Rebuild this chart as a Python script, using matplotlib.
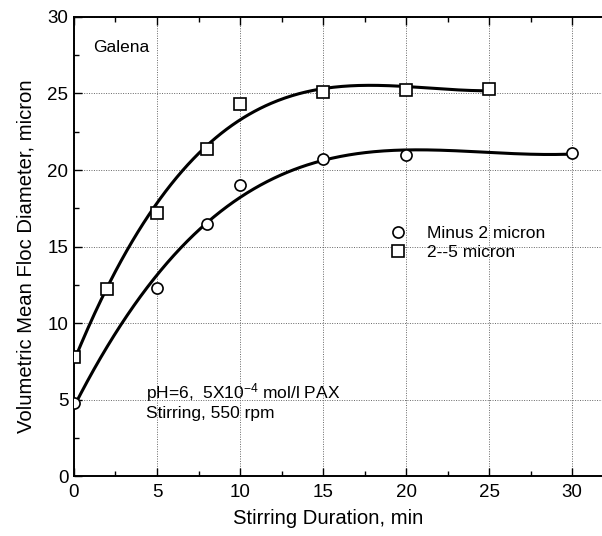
import numpy as np
import matplotlib
matplotlib.use("Agg")
import matplotlib.pyplot as plt
from matplotlib.ticker import MultipleLocator

plt.rcParams['font.family'] = ['Liberation Sans', 'DejaVu Sans']
plt.rcParams['mathtext.fontset'] = 'custom'
plt.rcParams['mathtext.rm'] = 'Liberation Sans'
plt.rcParams['mathtext.it'] = 'Liberation Sans'

# data
t_minus2 = np.array([0, 5, 8, 10, 15, 20, 30])
d_minus2 = np.array([4.8, 12.3, 16.5, 19.0, 20.7, 21.0, 21.1])
t_2to5 = np.array([0, 2, 5, 8, 10, 15, 20, 25])
d_2to5 = np.array([7.8, 12.2, 17.2, 21.4, 24.3, 25.1, 25.2, 25.3])

labels_ = ["Minus 2 micron", "2--5 micron"]


def main():
    fig = plt.figure(figsize=(6.02, 5.36), dpi=100)
    ax = fig.add_axes([0.1229, 0.1119, 0.8771, 0.8564])

    # fitted curves (polynomial fit of each series)
    for t, d, deg in [(t_minus2, d_minus2, 3), (t_2to5, d_2to5, 3)]:
        coef = np.polyfit(t, d, deg)
        xs = np.linspace(t.min(), t.max(), 300)
        ax.plot(xs, np.polyval(coef, xs), color="black", lw=2.2, zorder=3)

    ax.plot(t_minus2, d_minus2, "o", ms=8, mfc="white", mec="black", mew=1.2,
            ls="none", label=labels_[0], zorder=4)
    ax.plot(t_2to5, d_2to5, "s", ms=8, mfc="white", mec="black", mew=1.2,
            ls="none", label=labels_[1], zorder=4)

    ax.set_xlim(0, 31.8)
    ax.set_ylim(0, 30)
    ax.xaxis.set_major_locator(MultipleLocator(5))
    ax.xaxis.set_minor_locator(MultipleLocator(2.5))
    ax.yaxis.set_major_locator(MultipleLocator(5))
    ax.yaxis.set_minor_locator(MultipleLocator(2.5))
    ax.tick_params(which="both", direction="in", top=True, right=False)
    ax.tick_params(which="major", length=6, width=1, labelsize=13.5)
    ax.tick_params(which="minor", length=3.5, width=1)
    ax.tick_params(axis="x", pad=6)
    ax.tick_params(axis="y", pad=4)
    ax.grid(True, which="major", color="0.4", lw=0.7, ls=(0, (1, 1.5)))
    for s in ["left", "bottom", "top"]:
        ax.spines[s].set_linewidth(1.4)
    ax.spines["right"].set_visible(False)

    ax.set_xlabel("Stirring Duration, min", fontsize=14.6)
    ax.xaxis.set_label_coords(0.481, -0.071)
    ax.set_ylabel("Volumetric Mean Floc Diameter, micron", fontsize=14.6)
    ax.yaxis.set_label_coords(-0.072, 0.478)

    ax.text(1.14, 27.7, "Galena", fontsize=12.5)
    ax.text(4.34, 5.1, r"pH=6,  5X10$^{-4}$ mol/l PAX", fontsize=12.5)
    ax.text(4.34, 3.79, "Stirring, 550 rpm", fontsize=12.5)

    ax.legend(loc="upper left", bbox_to_anchor=(0.597, 0.545), frameon=False,
              fontsize=12.5, handlelength=1.0, handletextpad=1.18,
              borderpad=0, borderaxespad=0, labelspacing=0.23)

    fig.savefig("out.png", dpi=100)


if __name__ == "__main__":
    main()
